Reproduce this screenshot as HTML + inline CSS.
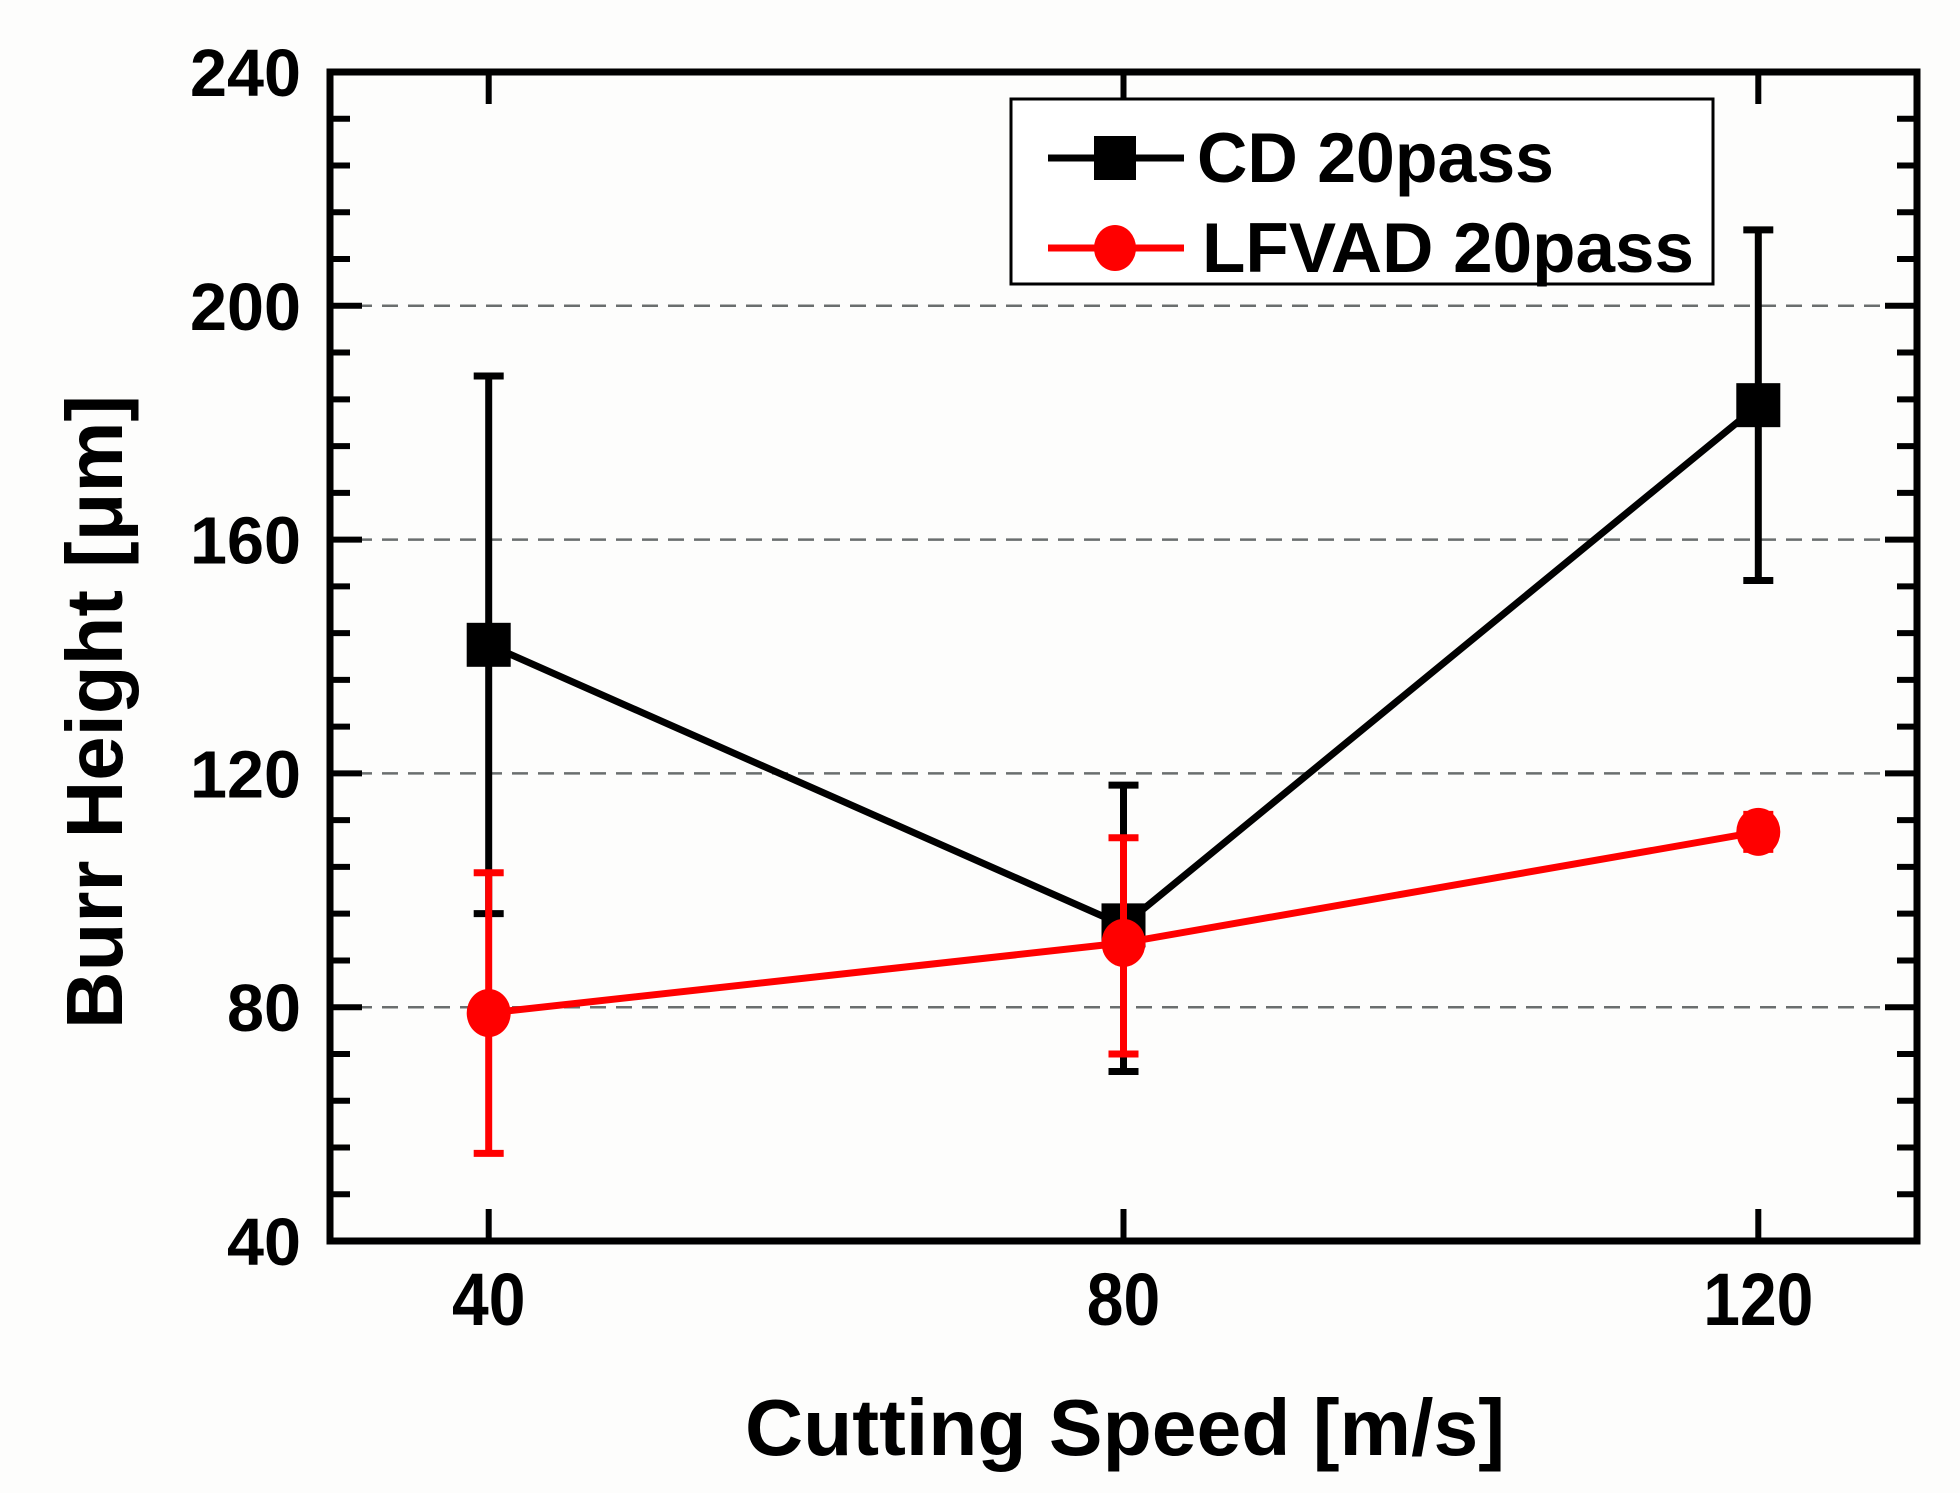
<!DOCTYPE html>
<html><head><meta charset="utf-8"><style>
html,body{margin:0;padding:0;background:#fff;}
svg{display:block;}
text{font-family:"Liberation Sans",Arial,sans-serif;font-weight:bold;fill:#000;}
</style></head><body>
<svg id="chart" width="1960" height="1493" viewBox="0 0 1960 1493" xmlns="http://www.w3.org/2000/svg">
<rect x="0" y="0" width="1960" height="1493" fill="#fdfdfc"/>
<g id="grid"></g>
<g id="ticks"></g>
<g id="series"></g>
<rect x="330" y="72" width="1587" height="1169" fill="none" stroke="#000" stroke-width="7"/>
<g id="labels"></g>
<text x="1125" y="1455" font-size="80" text-anchor="middle" textLength="760" lengthAdjust="spacingAndGlyphs">Cutting Speed [m/s]</text>
<text transform="translate(122,712) rotate(-90)" font-size="80" text-anchor="middle" textLength="634" lengthAdjust="spacingAndGlyphs">Burr Height [μm]</text>
<g>
<rect x="1011" y="99" width="702" height="185" fill="#fff" stroke="#000" stroke-width="3"/>
<line x1="1048" y1="158" x2="1184" y2="158" stroke="#000" stroke-width="7"/>
<rect x="1094" y="136" width="42" height="44" fill="#000"/>
<text transform="translate(1197,182) scale(1,1.1)" font-size="64" textLength="357" lengthAdjust="spacingAndGlyphs">CD 20pass</text>
<line x1="1048" y1="248" x2="1184" y2="248" stroke="#ff0000" stroke-width="7"/>
<ellipse cx="1115" cy="248" rx="21" ry="23" fill="#ff0000"/>
<text transform="translate(1202,272) scale(1,1.1)" font-size="64" textLength="492" lengthAdjust="spacingAndGlyphs">LFVAD 20pass</text>
</g>
</svg>
<script>
const categories = [40, 80, 120];
const cdValues = [142, 94, 183];
const cdErrHigh = [188, 118, 213];
const cdErrLow = [96, 69, 153];
const lfvadValues = [79, 91, 110];
const lfvadErrHigh = [103, 109, 113];
const lfvadErrLow = [55, 72, 107];
const yTickLabels = [40, 80, 120, 160, 200, 240];
const xTickLabels = [40, 80, 120];
const gridValues = [80, 120, 160, 200];

const NS = "http://www.w3.org/2000/svg";
const L = 330, R = 1917, T = 72, B = 1241;
const xMin = 30, xMax = 130, yMin = 40, yMax = 240;
function xs(v){ return L + (v - xMin) / (xMax - xMin) * (R - L); }
function ys(v){ return B - (v - yMin) / (yMax - yMin) * (B - T); }
function mk(tag, attrs, parent){
  const e = document.createElementNS(NS, tag);
  for (const k in attrs) e.setAttribute(k, attrs[k]);
  parent.appendChild(e); return e;
}
const grid = document.getElementById('grid');
const ticks = document.getElementById('ticks');
const series = document.getElementById('series');
const labels = document.getElementById('labels');

gridValues.forEach(v => {
  const l = mk('line', {x1: L, x2: R, y1: ys(v), y2: ys(v), stroke: '#6a6e6e', 'stroke-width': 2.5, 'stroke-dasharray': '16 10'}, grid);
  
  
});
for (let v = yMin; v <= yMax; v += 8) {
  const major = (v - yMin) % 40 === 0;
  const len = major ? 32 : 20;
  const a = mk('line', {x1: L, x2: L + len, y1: ys(v), y2: ys(v), stroke: '#000', 'stroke-width': 6}, ticks);
  
  
  const b = mk('line', {x1: R, x2: R - len, y1: ys(v), y2: ys(v), stroke: '#000', 'stroke-width': 6}, ticks);
  
  
}
xTickLabels.forEach(v => {
  const a = mk('line', {x1: xs(v), x2: xs(v), y1: B, y2: B - 32, stroke: '#000', 'stroke-width': 6}, ticks);
  
  
  const b = mk('line', {x1: xs(v), x2: xs(v), y1: T, y2: T + 32, stroke: '#000', 'stroke-width': 6}, ticks);
  
  
  const t = mk('text', {transform: `translate(${xs(v)},${ys(yMin) + 84}) scale(1,1.12)`, 'font-size': 66, 'text-anchor': 'middle'}, labels);
  t.textContent = v;
  
  
});
yTickLabels.forEach(v => {
  const s = String(v);
  const t = mk('text', {transform: `translate(301,${ys(v) + 24}) scale(1,1.12)`, 'font-size': 60, 'text-anchor': 'end', textLength: s.length * 37, lengthAdjust: 'spacingAndGlyphs'}, labels);
  t.textContent = s;
  
  
});

function drawSeries(vals, hi, lo, color, name, marker){
  const g = mk('g', {}, series);
  
  
  categories.forEach((c, i) => {
    const x = xs(c);
    const e = mk('path', {d: `M${x},${ys(hi[i])}V${ys(lo[i])}M${x-15},${ys(hi[i])}H${x+15}M${x-15},${ys(lo[i])}H${x+15}`, stroke: color, 'stroke-width': 7, fill: 'none'}, g);
    
    
  });
  const pts = categories.map((c, i) => xs(c) + ',' + ys(vals[i])).join(' ');
  const pl = mk('polyline', {points: pts, stroke: color, 'stroke-width': 7, fill: 'none'}, g);
  
  
  categories.forEach((c, i) => {
    let m;
    if (marker === 'square') m = mk('rect', {x: xs(c) - 22, y: ys(vals[i]) - 22, width: 44, height: 44, fill: color}, g);
    else m = mk('ellipse', {cx: xs(c), cy: ys(vals[i]), rx: 22, ry: 24, fill: color}, g);
    
    
  });
}
drawSeries(cdValues, cdErrHigh, cdErrLow, '#000', 'cd', 'square');
drawSeries(lfvadValues, lfvadErrHigh, lfvadErrLow, '#ff0000', 'lfvad', 'circle');
</script>
</body></html>
